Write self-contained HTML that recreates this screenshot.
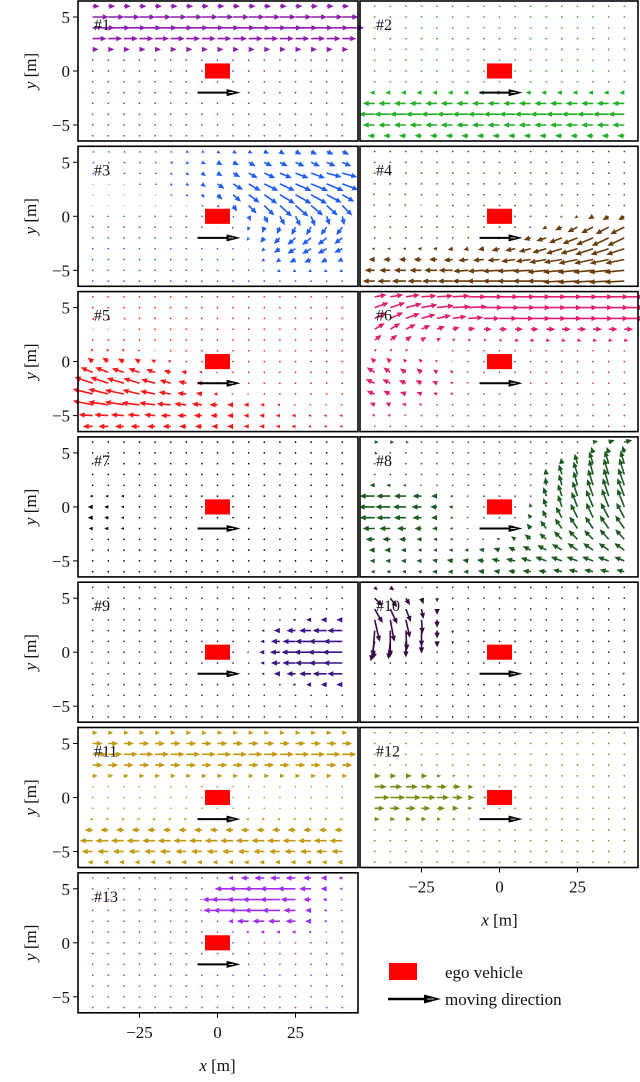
<!DOCTYPE html>
<html><head><meta charset="utf-8"><style>
html,body{margin:0;padding:0;background:#fff;}
svg{display:block;}
text{font-family:"Liberation Serif","DejaVu Serif",serif;fill:#111;}
</style></head><body>
<svg id="fig" width="640" height="1082" viewBox="0 0 640 1082" xmlns="http://www.w3.org/2000/svg"></svg>
<script>
// ---- data ----
const xGrid=[-40,-35,-30,-25,-20,-15,-10,-5,0,5,10,15,20,25,30,35,40];
const yGrid=[6,5,4,3,2,1,0,-1,-2,-3,-4,-5,-6];
const yTicks=[5,0,-5];
const xTicks=[-25,0,25];
const xTickLabels=["\u221225","0","25"];
const yTickLabels=["5","0","\u22125"];
const panelIds=[1,2,3,4,5,6,7,8,9,10,11,12,13];
const panelColors=["#8e1fae","#22b024","#1f5ef0","#6b3d0c","#ff1616","#e0206e","#000000","#1b5a1e","#3a1584","#3b0a46","#c4980f","#7a8a12","#a22ef2"];
const rowU1=[7,16,22,14,6,0,0,0,0,0,0,0,0];
const rowU2=[0,0,0,0,0,0,0,0,-5,-12,-16,-12,-7];
const rowU11=[5,10,14,10,5,0,0,0,-3,-8,-13,-11,-5];
const seg3=[
[6,-40,[2,2,2,2,2,2,3,3,3,4,4,5,5,6,6,7,7],[-1,-1,-1,-1,-1,-1,-1,-1,-2,-2,-2,-2,-3,-3,-3,-3,-3]],
[5,-40,[2,2,2,2,2,3,3,4,5,6,7,8,8,9,9,9,9],[-1,-1,-1,-1,-1,-1,-2,-2,-3,-3,-4,-4,-4,-4,-4,-4,-4]],
[4,-40,[2,2,2,2,2,2,3,4,5,7,9,11,12,13,14,15,15],[-1,-1,-1,-1,-1,-2,-2,-3,-3,-4,-5,-5,-5,-5,-5,-4,-4]],
[3,-40,[1,1,1,2,2,2,3,4,7,10,12,14,15,16,17,17,16],[-1,-1,-1,-1,-1,-2,-2,-3,-5,-6,-7,-7,-7,-7,-7,-7,-6]],
[2,-40,[1,1,1,1,1,2,2,3,5,8,11,13,15,16,16,15,12],[-1,-1,-1,-1,-1,-1,-2,-3,-5,-7,-8,-9,-9,-9,-9,-8,-7]],
[1,-40,[1,1,1,1,1,1,1,2,2,4,8,10,12,13,12,11,10],[0,0,0,0,-1,-1,-1,-1,-2,-6,-8,-10,-11,-11,-10,-10,-10]],
[0,-40,[0,0,0,0,0,0,0,0,0,1,2,4,5,5,4,3,2],[0,0,0,0,0,0,0,0,0,-2,-5,-7,-9,-10,-10,-9,-9]],
[-1,0,[0,-1,-1,-2,-3,-4,-5,-6,-6],[-1,-2,-4,-6,-7,-8,-8,-8,-8]],
[-2,0,[0,-1,-2,-4,-6,-8,-9,-9,-8],[0,-1,-3,-5,-6,-7,-7,-7,-6]],
[-3,0,[0,0,-1,-3,-6,-8,-9,-9,-8],[0,0,-1,-3,-4,-5,-5,-5,-4]],
[-4,10,[-1,-3,-4,-6,-7,-6,-5],[-1,-2,-3,-3,-3,-3,-2]],
[-5,15,[-2,-3,-3,-3,-3,-3],[-1,-2,-2,-2,-2,-2]]];
const seg4=[
[2,-40,[-2,-2,-2],[1,1,1]],
[1,-40,[-2,-2,-2,-1],[1,1,1,1]],
[0,20,[-2,-3,-5,-6,-6],[-1,-2,-3,-4,-4]],
[-1,10,[-2,-4,-7,-10,-12,-13,-14],[-1,-2,-3,-5,-6,-7,-7]],
[-2,-5,[-2,-3,-4,-7,-10,-13,-15,-17,-17,-17],[-1,-1,-1,-2,-3,-5,-6,-7,-8,-8]],
[-3,-40,[-3,-3,-3,-4,-4,-5,-5,-6,-8,-10,-12,-14,-16,-17,-18,-18,-18],[0,0,0,0,0,-1,-1,-1,-2,-2,-3,-4,-5,-5,-6,-6,-6]],
[-4,-40,[-6,-7,-7,-8,-8,-9,-10,-11,-12,-14,-15,-17,-18,-19,-19,-19,-19],[0,0,0,0,0,-1,-1,-1,-1,-2,-2,-3,-3,-4,-4,-4,-4]],
[-5,-40,[-10,-11,-12,-12,-13,-14,-15,-16,-17,-18,-18,-19,-19,-20,-20,-20,-20],[0,0,0,0,0,0,-1,-1,-1,-1,-1,-2,-2,-2,-2,-2,-2]],
[-6,-40,[-12,-13,-14,-14,-15,-15,-16,-17,-17,-18,-18,-19,-19,-20,-20,-20,-20],[0,0,0,0,0,0,0,0,0,0,0,0,-1,-1,-1,-1,-1]]];
const seg5=[
[4,-40,[2,2,2],[-2,-2,-1]],
[3,-40,[1,1,1],[-1,-1,-1]],
[1,-40,[-2,-2,-2,-2,-1],[2,2,2,1,1]],
[0,-40,[-5,-6,-6,-5,-4,-3],[4,4,3,3,2,1]],
[-1,-40,[-12,-13,-12,-11,-9,-7,-5,-3,-2],[5,5,4,4,3,2,1,1,0]],
[-2,-40,[-18,-18,-17,-16,-14,-11,-8,-5,-3,-2],[6,6,5,5,4,3,2,1,0,0]],
[-3,-40,[-20,-20,-19,-17,-15,-12,-9,-6,-4,-2,-2],[5,5,4,4,3,2,1,1,0,0,0]],
[-4,-40,[-20,-20,-19,-18,-16,-14,-12,-10,-8,-6,-5,-4,-3,-2,-2,-2,-2],[4,3,3,2,2,1,1,1,0,0,0,0,0,0,0,0,0]],
[-5,-40,[-14,-14,-13,-12,-11,-10,-9,-8,-7,-6,-5,-5,-4,-4,-3,-3,-3],[1,1,1,1,1,0,0,0,0,0,0,0,0,0,0,0,0]],
[-6,-40,[-10,-10,-9,-9,-8,-8,-7,-7,-6,-6,-5,-5,-4,-4,-3,-3,-3],[0,0,0,0,0,0,0,0,0,0,0,0,0,0,0,0,0]]];
const seg6=[
[6,-40,[12,13,14,15,16,17,18,19,19,20,20,20,20,20,20,20,20],[2,2,2,1,1,1,0,0,0,0,0,0,0,0,0,0,0]],
[5,-40,[14,15,16,16,17,18,19,19,20,20,20,20,20,20,20,20,20],[5,5,4,3,2,1,1,0,0,0,0,0,0,0,0,0,0]],
[4,-40,[12,13,14,14,14,14,15,16,18,19,20,20,20,20,20,20,20],[6,6,5,4,3,2,1,0,0,0,0,0,0,0,0,0,0]],
[3,-40,[10,10,10,9,8,7,7,8,8,8,8,9,9,9,9,9,9],[6,6,5,4,3,2,1,0,0,0,0,0,0,0,0,0,0]],
[2,-40,[7,7,6,5,4,3,3,3,3,4,4,4,4,4,4,4,4],[5,5,4,3,2,1,0,0,-1,-1,-1,-1,-1,-1,-1,-1,-1]],
[1,-40,[2,2,2,1,1],[2,2,2,1,1]],
[0,-40,[-4,-4,-3,-3,-2,-1],[4,4,3,3,2,1]],
[-1,-40,[-8,-7,-6,-5,-4,-3,-2],[5,5,4,4,3,2,1]],
[-2,-40,[-9,-8,-7,-6,-5,-3,-2],[4,4,3,3,2,1,1]],
[-3,-40,[-8,-7,-6,-5,-4,-3],[3,3,2,2,1,1]],
[-4,-40,[-5,-5,-4,-3],[2,2,1,1]],
[-5,-40,[-3,-3,-2],[1,1,1]]];
const seg7=[
[1,-40,[-3,-3,-3],[0,0,0]],
[0,-40,[-5,-4,-3],[0,0,0]],
[-1,-40,[-5,-4,-3],[0,0,0]],
[-2,-40,[-4,-4,-3],[0,0,0]],
[-3,-40,[-2],[0]]];
const seg8=[
[6,-40,[4,4,3],[0,0,0]],
[6,30,[5,6,8],[1,2,2]],
[5,-40,[3],[-1]],
[5,30,[-2,-2,-2],[6,6,7]],
[4,20,[-1,-3,-4,-4,-4],[6,10,12,13,13]],
[3,15,[-1,-3,-4,-4,-5,-5],[6,10,13,15,16,16]],
[2,-40,[-5,-4,-3,-2],[0,0,0,0]],
[2,15,[-1,-3,-4,-5,-5,-6],[8,11,14,16,17,17]],
[1,-40,[-15,-14,-12,-9,-6,-3,-2],[0,0,0,0,0,0,0]],
[1,15,[-3,-4,-5,-6,-6,-7],[9,12,15,17,18,18]],
[0,-40,[-16,-15,-13,-10,-7,-4,-2],[0,0,0,0,0,0,0]],
[0,10,[-1,-3,-4,-6,-7,-7,-7],[4,9,12,15,17,18,18]],
[-1,-40,[-15,-14,-12,-9,-6,-3,-2],[0,0,0,0,0,0,0]],
[-1,10,[-3,-4,-6,-7,-7,-8,-8],[4,8,11,14,15,15,15]],
[-2,-40,[-12,-11,-9,-7,-5,-3,-2,-1],[0,0,0,0,0,0,0,0]],
[-2,5,[-3,-4,-6,-7,-8,-8,-9,-9],[3,5,8,10,12,12,13,13]],
[-3,-40,[-9,-8,-7,-5,-4,-3,-2,-2,-3,-4,-6,-7,-8,-9,-9,-9,-9],[0,0,0,0,0,0,0,0,1,3,5,6,8,9,9,10,10]],
[-4,-40,[-6,-6,-5,-4,-4,-4,-4,-5,-6,-7,-8,-9,-10,-10,-10,-10,-10],[0,0,0,0,0,0,0,1,2,3,4,5,6,7,7,7,7]],
[-5,-40,[-5,-5,-5,-5,-5,-6,-6,-7,-8,-9,-10,-11,-11,-11,-11,-11,-10],[0,0,0,0,1,1,1,1,2,2,3,4,4,4,4,4,4]],
[-6,-40,[-4,-4,-4,-4,-5,-5,-5,-6,-6,-7,-8,-8,-9,-9,-9,-9,-8],[0,0,0,0,0,0,0,1,1,1,1,1,2,2,2,2,2]]];
const seg9=[
[3,25,[-3,-5,-6,-6],[0,0,0,0]],
[2,15,[-3,-6,-9,-12,-14,-15],[0,0,0,0,0,0]],
[1,15,[-4,-9,-13,-16,-18,-19],[0,0,0,0,0,0]],
[0,-40,[-2],[0]],
[0,10,[-2,-5,-10,-14,-17,-19,-20],[0,0,0,0,0,0,0]],
[-1,-40,[-2],[0]],
[-1,15,[-4,-9,-13,-16,-18,-19],[0,0,0,0,0,0]],
[-2,15,[-3,-6,-9,-12,-14,-15],[0,0,0,0,0,0]],
[-3,25,[-3,-5,-6,-6],[0,0,0,0]]];
const seg10=[
[6,-40,[3,4,0,1],[-3,-3,0,-1]],
[5,-40,[8,7,4,2,0],[-8,-9,-7,-6,-4]],
[4,-40,[8,7,5,2,0],[-14,-15,-13,-10,-6]],
[3,-40,[5,4,4,1,0],[-22,-22,-18,-14,-8]],
[2,-40,[-2,0,1,0,0,0],[-26,-26,-20,-16,-8,-3]],
[1,-40,[-4,-2,0,0,0,0],[-20,-18,-16,-12,-6,-3]],
[0,-40,[-2,0],[-7,-5]],
[-2,40,[-2],[1]],
[-3,40,[-2],[1]]];
const seg12=[
[2,-40,[6,6,6,6,4,3],[0,0,0,0,0,0]],
[1,-40,[12,12,12,11,10,8,5],[0,0,0,0,0,0,0]],
[0,-40,[15,15,15,14,12,10,6,3],[0,0,0,0,0,0,0,0]],
[-1,-40,[10,10,10,9,8,6,4],[0,0,0,0,0,0,0]],
[-2,-40,[5,5,5,5,4,3,2],[0,0,0,0,0,0,0]]];
const seg13=[
[6,5,[-5,-8,-10,-10,-10,-8,-6,-4],[0,0,0,0,0,0,0,0]],
[5,0,[-3,-18,-20,-20,-20,-18,-12,-6,-3],[0,0,0,0,0,0,0,0,0]],
[4,-5,[-2,-15,-22,-22,-22,-20,-15,-8,-4,-2],[0,0,0,0,0,0,0,0,0,0]],
[3,-5,[-2,-14,-20,-20,-20,-18,-12,-6,-3,-2],[0,0,0,0,0,0,0,0,0,0]],
[2,5,[-5,-12,-12,-12,-10,-6,-3],[0,0,0,0,0,0,0]],
[1,10,[-3,-4,-4,-4,-3,-2],[0,0,0,0,0,0]]];

// ---- layout ----
const NS="http://www.w3.org/2000/svg";
const svg=document.getElementById('fig');
const PXM=3.12, PYM=10.8;
function panelPos(id){const col=(id%2===1)?0:1;const row=Math.floor((id-1)/2);return {cx:col?499.5:217.5,cy:71+145.3*row,left:col?360:78,right:col?638:358,col:col,row:row};}
function mk(tag,attrs,parent){const e=document.createElementNS(NS,tag);for(const k in attrs)e.setAttribute(k,attrs[k]);(parent||svg).appendChild(e);return e;}
function arrow(g,px,py,dx,dy,color){
  const L=Math.hypot(dx,dy);
  if(L<0.8){const c=mk('circle',{cx:px,cy:py,r:0.85,fill:color},g);
    
    return;}
  const ux=dx/L,uy=dy/L,nx=-uy,ny=ux;
  const hl=Math.min(6,L),s=hl/6,hw=2.7*s,sw=0.8*Math.max(s,0.5);
  const bx=px+ux*(L-hl),by=py+uy*(L-hl),tx=px+dx,ty=py+dy;
  let pts;
  if(L<=6){pts=[[bx+nx*hw,by+ny*hw],[tx,ty],[bx-nx*hw,by-ny*hw]];}
  else{pts=[[px+nx*sw,py+ny*sw],[bx+nx*sw,by+ny*sw],[bx+nx*hw,by+ny*hw],[tx,ty],[bx-nx*hw,by-ny*hw],[bx-nx*sw,by-ny*sw],[px-nx*sw,py-ny*sw]];}
  const p=mk('polygon',{points:pts.map(q=>q[0].toFixed(2)+','+q[1].toFixed(2)).join(' '),fill:color},g);
  
  
}
function buildField(id){
  const f={};
  xGrid.forEach(x=>yGrid.forEach(y=>{f[x+'_'+y]=[0,0];}));
  const rows={1:rowU1,2:rowU2,11:rowU11}[id];
  if(rows){yGrid.forEach((y,i)=>xGrid.forEach(x=>{f[x+'_'+y]=[rows[i],0];}));}
  const segs={3:seg3,4:seg4,5:seg5,6:seg6,7:seg7,8:seg8,9:seg9,10:seg10,12:seg12,13:seg13}[id];
  if(segs){segs.forEach(s=>{const y=s[0],x0=s[1];s[2].forEach((u,j)=>{const x=x0+5*j;f[x+'_'+y]=[u,(s[3]||[])[j]||0];});});}
  return f;
}
panelIds.forEach((id,idx)=>{
  const P=panelPos(id);
  const g=mk('g',{});
  
  
  const X=x=>P.cx+x*PXM, Y=y=>P.cy-y*PYM;
  const field=buildField(id);
  const fg=mk('g',{},g);
  
  
  xGrid.forEach(x=>yGrid.forEach(y=>{const v=field[x+'_'+y];arrow(fg,X(x),Y(y),v[0],-v[1],panelColors[idx]);}));
  const ego=mk('rect',{x:X(-4),y:Y(0.7),width:8*PXM,height:1.4*PYM,fill:'#ff0000'},g);
  
  
  const ay=Y(-2),ax0=X(-6.4),ax1=X(7.4);
  const da=mk('g',{},g);
  
  
  mk('line',{x1:ax0,y1:ay,x2:ax1-10,y2:ay,stroke:'#000','stroke-width':2},da);
  mk('polygon',{points:`${ax1-14},${ay-3.5} ${ax1},${ay} ${ax1-14},${ay+3.5}`,fill:'#000'},da);
  mk('line',{x1:ax1-12,y1:ay,x2:ax1-7,y2:ay,stroke:'#fff','stroke-width':0.8},da);
  const t=mk('text',{x:P.left+16,y:Y(3.8),'font-size':16},g);t.textContent='#'+id;
  
  
  const fr=mk('rect',{x:P.left,y:P.cy-70,width:P.right-P.left,height:140,fill:'none',stroke:'#000','stroke-width':1.6},g);
  
  
  if(P.col===0){
    yTicks.forEach((v,k)=>{
      mk('line',{x1:P.left-5,y1:Y(v),x2:P.left,y2:Y(v),stroke:'#000','stroke-width':1},g);
      const tl=mk('text',{x:P.left-8,y:Y(v)+6,'font-size':17,'text-anchor':'end'},g);tl.textContent=yTickLabels[k];
      
      
    });
    const yl=mk('text',{x:0,y:0,'font-size':17,'text-anchor':'middle',transform:`translate(36,${P.cy}) rotate(-90)`},g);
    yl.innerHTML='<tspan font-style="italic">y</tspan> [m]';
    
    
  }
  if(id===12||id===13){
    const by=P.cy+70;
    xTicks.forEach((v,k)=>{
      mk('line',{x1:X(v),y1:by,x2:X(v),y2:by+5,stroke:'#000','stroke-width':1},g);
      const tl=mk('text',{x:X(v),y:by+25,'font-size':17,'text-anchor':'middle'},g);tl.textContent=xTickLabels[k];
      
      
    });
    const xl=mk('text',{x:P.cx,y:by+58,'font-size':17,'text-anchor':'middle'},g);
    xl.innerHTML='<tspan font-style="italic">x</tspan> [m]';
    
    
  }
});
const lg=mk('g',{});


const le1=mk('rect',{x:389,y:963,width:28,height:17,fill:'#ff0000'},lg);


const lt1=mk('text',{x:445,y:978,'font-size':17},lg);lt1.textContent='ego vehicle';


mk('line',{x1:388,y1:999,x2:428,y2:999,stroke:'#000','stroke-width':2.4},lg);
mk('polygon',{points:'424,994.5 441,999 424,1003.5',fill:'#000'},lg);
mk('line',{x1:427,y1:999,x2:434,y2:999,stroke:'#fff','stroke-width':0.8},lg);
const lt2=mk('text',{x:445,y:1005,'font-size':17},lg);lt2.textContent='moving direction';


</script>
</body></html>
